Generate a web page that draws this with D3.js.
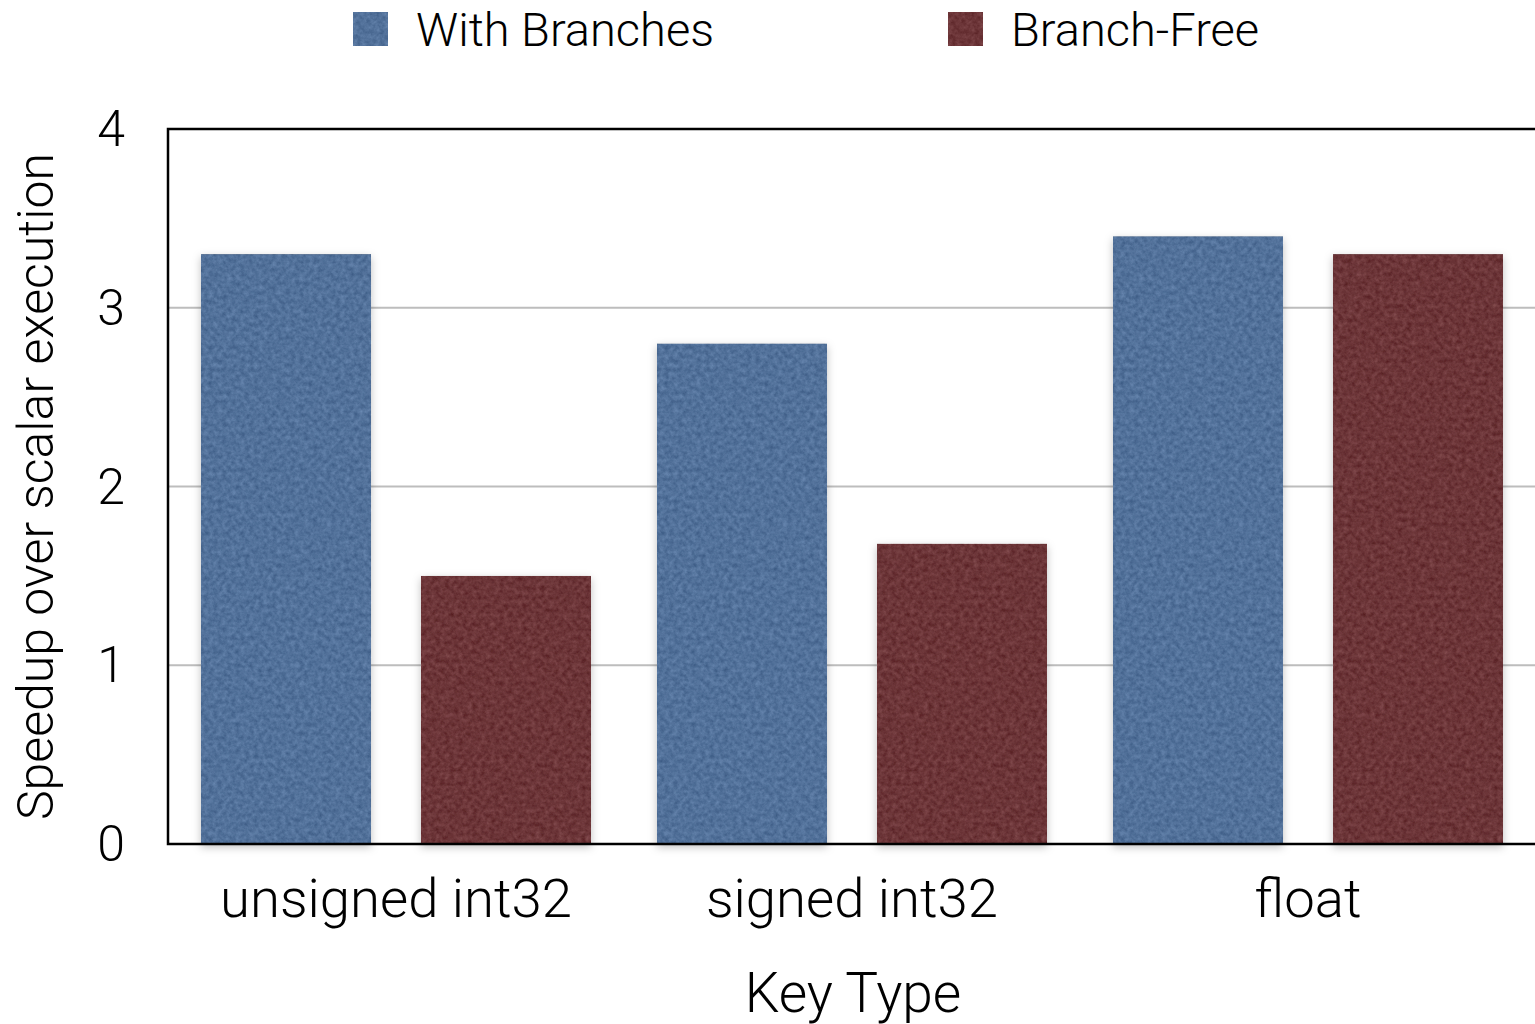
<!DOCTYPE html>
<html>
<head>
<meta charset="utf-8">
<script src="https://cdn.jsdelivr.net/npm/d3@7"></script>
<style>
  html, body { margin: 0; padding: 0; background: #fff; }
  svg { display: block; }
  text { font-family: "Helvetica Neue", Roboto, "Liberation Sans", sans-serif; font-weight: 300; fill: #000; }
</style>
</head>
<body>
<svg id="chart" width="1535" height="1024"></svg>
<script>
// Speedup over scalar execution, per key type
const categories = ["unsigned int32", "signed int32", "float"];
const seriesNames = ["With Branches", "Branch-Free"];
const withBranches = [3.3, 2.8, 3.4];
const branchFree = [1.5, 1.68, 3.3];
const yTicks = [0, 1, 2, 3, 4];
const seriesColors = ["#52719a", "#6c3538"];

const svg = d3.select("#chart");
const margin = { left: 168, top: 129, right: 0, bottom: 180 };
const plotW = 1536 - margin.left;
const plotH = 844 - margin.top;

const defs = svg.append("defs");

// Felt-like mottled grain for the bars
const grain = defs.append("filter").attr("id", "grain")
  .attr("x", "0%").attr("y", "0%").attr("width", "100%").attr("height", "100%")
  .attr("color-interpolation-filters", "sRGB");
grain.append("feTurbulence").attr("type", "fractalNoise")
  .attr("baseFrequency", "0.22").attr("numOctaves", 4).attr("seed", 7).attr("result", "noise");
grain.append("feColorMatrix").attr("in", "noise").attr("type", "matrix")
  .attr("values", "1 0 0 0 0  1 0 0 0 0  1 0 0 0 0  0 0 0 0 1")
  .attr("result", "gray");
grain.append("feComposite").attr("in", "SourceGraphic").attr("in2", "gray")
  .attr("operator", "arithmetic").attr("k1", 0).attr("k2", 1).attr("k3", 0.2).attr("k4", -0.1)
  .attr("result", "mixed");
grain.append("feComposite").attr("in", "mixed").attr("in2", "SourceGraphic").attr("operator", "in");

// Soft drop shadow under each bar
const shadow = defs.append("filter").attr("id", "shadow")
  .attr("x", "-10%").attr("y", "-10%").attr("width", "120%").attr("height", "120%");
shadow.append("feDropShadow").attr("dx", 0).attr("dy", 3).attr("stdDeviation", 4)
  .attr("flood-color", "#000").attr("flood-opacity", 0.25);

const x0 = d3.scaleBand().domain(categories).range([margin.left, margin.left + plotW]).paddingInner(0).paddingOuter(0);
const x1 = d3.scaleBand().domain(seriesNames).range([0, x0.bandwidth()]).paddingInner(0.227).paddingOuter(0.15);
const y = d3.scaleLinear().domain([0, 4]).range([margin.top + plotH, margin.top]);

// Horizontal gridlines
svg.append("g").selectAll("line").data(yTicks.filter(t => t > 0 && t < 4)).join("line")
  .attr("x1", margin.left).attr("x2", margin.left + plotW)
  .attr("y1", d => y(d)).attr("y2", d => y(d))
  .attr("stroke", "#bdbdbd").attr("stroke-width", 2);

// Bars
const rows = categories.map((c, i) => ({ cat: c, vals: [withBranches[i], branchFree[i]] }));
const groups = svg.append("g").selectAll("g").data(rows).join("g")
  .attr("transform", d => `translate(${x0(d.cat)},0)`);
groups.selectAll("g").data(d => d.vals.map((v, j) => ({ name: seriesNames[j], v, j }))).join("g")
  .attr("filter", "url(#shadow)")
  .append("rect")
  .attr("x", d => x1(d.name))
  .attr("width", x1.bandwidth())
  .attr("y", d => y(d.v))
  .attr("height", d => y(0) - y(d.v))
  .attr("fill", d => seriesColors[d.j])
  .attr("filter", "url(#grain)");

// Plot frame: left, top and bottom edges
svg.append("path")
  .attr("d", `M${margin.left + plotW},${margin.top} H${margin.left} V${margin.top + plotH} H${margin.left + plotW}`)
  .attr("fill", "none").attr("stroke", "#000").attr("stroke-width", 2.5);

// Y tick labels
svg.append("g").selectAll("text").data(yTicks).join("text")
  .attr("x", 125).attr("y", d => y(d))
  .attr("text-anchor", "end").attr("dominant-baseline", "central")
  .attr("font-size", 50)
  .text(d => d);

// X category labels
svg.append("g").selectAll("text").data(categories).join("text")
  .attr("x", d => x0(d) + x0.bandwidth() / 2).attr("y", 917)
  .attr("text-anchor", "middle").attr("font-size", 54.5)
  .text(d => d);

// Axis titles
svg.append("text").attr("x", 853).attr("y", 1012)
  .attr("text-anchor", "middle").attr("font-size", 55).text("Key Type");
svg.append("text")
  .attr("transform", `translate(53,${margin.top + plotH / 2}) rotate(-90)`)
  .attr("text-anchor", "middle").attr("font-size", 50)
  .text("Speedup over scalar execution");

// Legend
const legendX = [353, 948];
const legend = svg.append("g").selectAll("g").data(seriesNames).join("g")
  .attr("transform", (d, i) => `translate(${legendX[i]},12)`);
legend.append("rect").attr("width", 35).attr("height", 34)
  .attr("fill", (d, i) => seriesColors[i]).attr("filter", "url(#grain)");
legend.append("text").attr("x", 63).attr("y", 34)
  .attr("font-size", 47).text(d => d);
</script>
</body>
</html>
